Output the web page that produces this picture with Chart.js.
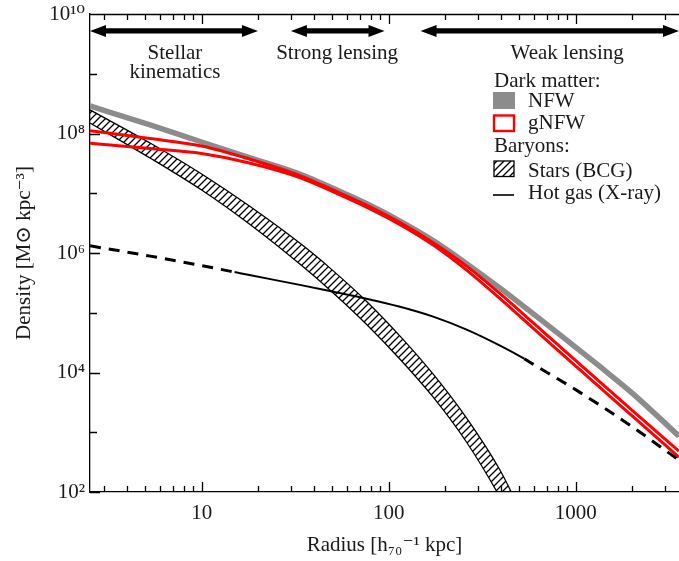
<!DOCTYPE html>
<html><head><meta charset="utf-8">
<script src="https://cdn.jsdelivr.net/npm/chart.js@4/dist/chart.umd.min.js"></script>
<style>html,body{margin:0;padding:0;background:#fff}canvas{display:block}</style>
</head><body>
<canvas id="c" width="679" height="561"></canvas>
<script>
// ---- data ----
const radius = [2.53, 5.3, 10, 18, 34, 50, 76, 115, 173, 261, 394, 591, 895, 1350, 2025, 3565];
const nfw = [2.89e8, 1.39e8, 7.21e7, 3.96e7, 2.06e7, 1.22e7, 6.72e6, 3.42e6, 1.61e6, 6.64e5, 2.58e5, 9.66e4, 3.48e4, 1.25e4, 4.40e3, 8.6e2];
const gnfwHigh = [1.11e8, 8.24e7, 6.18e7, 3.74e7, 1.94e7, 1.15e7, 6.34e6, 3.23e6, 1.49e6, 6.04e5, 2.09e5, 6.82e4, 2.15e4, 6.88e3, 2.25e3, 4.81e2];
const gnfwLow = [6.85e7, 5.61e7, 4.62e7, 3.21e7, 1.80e7, 1.07e7, 5.87e6, 2.99e6, 1.36e6, 5.17e5, 1.72e5, 5.52e4, 1.74e4, 5.56e3, 1.82e3, 3.81e2];
const gasRadius = [2.53, 5.3, 10, 15, 18, 34, 50, 76, 115, 173, 261, 394, 530, 591, 895, 1350, 2025, 3565];
const hotGas = [1.32e6, 8.87e5, 6.15e5, 4.79e5, 4.27e5, 2.90e5, 2.26e5, 1.72e5, 1.26e5, 8.61e4, 5.21e4, 2.81e4, 1.70e4, 1.38e4, 6.37e3, 2.83e3, 1.21e3, 3.40e2];
const gasMeasuredRange = [15, 530];
const starRadius = [2.53, 5.3, 10, 18, 34, 50, 76, 115, 173, 261, 394, 520];
const starsHigh = [2.48e8, 6.93e7, 2.10e7, 6.11e6, 1.41e6, 5.17e5, 1.56e5, 4.06e4, 9.37e3, 1.72e3, 2.31e2, 40.7];
const starsLow = [1.50e8, 3.89e7, 1.13e7, 3.05e6, 6.27e5, 2.21e5, 6.44e4, 1.67e4, 3.86e3, 6.80e2, 81.5, 15.5];

const regionNames = [["Stellar", "kinematics"], ["Strong lensing"], ["Weak lensing"]];
const regionFrom = [2.53, 30, 148];
const regionTo = [20, 95, 3565];
const regionLabelAt = [7.2, 53, 900];
const arrowLevel = 5.2e9;

const xRange = [2.53, 3565];
const yRange = [1e2, 1e10];
const xMajorTicks = [10, 100, 1000];
const xTickLabels = ["10", "100", "1000"];
const xMinorTicks = [3, 4, 5, 6, 7, 8, 9, 20, 30, 40, 50, 60, 70, 80, 90, 200, 300, 400, 500, 600, 700, 800, 900, 2000, 3000];
const yMajorTicks = [1e2, 1e4, 1e6, 1e8, 1e10];
const yTickLabels = ["10\u00B2", "10\u2074", "10\u2076", "10\u2078", "10\u00B9\u2070"];
const yMinorTicks = [1e3, 1e5, 1e7, 1e9];

const legendHeaders = ["Dark matter:", "Baryons:"];
const legendNames = ["NFW", "gNFW", "Stars (BCG)", "Hot gas (X-ray)"];

const xTitle = "Radius [h\u2087\u2080\u207B\u00B9 kpc]";
const yTitle = "Density [M\u2299 kpc\u207B\u00B3]";

// ---- styling ----
const FONT = "'Liberation Serif', 'DejaVu Serif', serif";
const TXT = '#1a1a1a';
const GRAY = '#8c8c8c';
const RED = '#ff0000';

const canvas = document.getElementById('c');
const mainCtx = canvas.getContext('2d');
function makeHatch() {
  const s = 7;
  const c = document.createElement('canvas'); c.width = s; c.height = s;
  const g = c.getContext('2d');
  g.strokeStyle = '#000'; g.lineWidth = 1.3;
  g.beginPath();
  g.moveTo(0, s); g.lineTo(s, 0);
  g.moveTo(-1, 1); g.lineTo(1, -1);
  g.moveTo(s - 1, s + 1); g.lineTo(s + 1, s - 1);
  g.stroke();
  return mainCtx.createPattern(c, 'repeat');
}
const hatch = makeHatch();

const pts = (xs, ys) => xs.map((x, i) => ({x: x, y: ys[i]}));

const frame = {
  id: 'frame',
  afterDraw(chart) {
    const {ctx, chartArea: a, scales: {x, y}} = chart;
    ctx.save();
    ctx.strokeStyle = '#000'; ctx.lineWidth = 1.3;
    ctx.beginPath();
    ctx.moveTo(a.left, a.top + 0.5); ctx.lineTo(a.right, a.top + 0.5);
    x.ticks.forEach(t => {
      const px = Math.round(x.getPixelForValue(t.value)) + 0.5;
      const len = t.major ? 10 : 6;
      ctx.moveTo(px, a.bottom); ctx.lineTo(px, a.bottom - len);
      ctx.moveTo(px, a.top); ctx.lineTo(px, a.top + len);
    });
    y.ticks.forEach(t => {
      const py = Math.round(y.getPixelForValue(t.value)) + 0.5;
      const len = t.major ? 10 : 7;
      ctx.moveTo(a.left, py); ctx.lineTo(a.left + len, py);
    });
    ctx.stroke();
    ctx.restore();
  }
};

const annotations = {
  id: 'annotations',
  afterDraw(chart) {
    const {ctx, scales: {x, y}} = chart;
    ctx.save();
    const ay = y.getPixelForValue(arrowLevel);
    regionNames.forEach((lines, i) => {
      const x1 = x.getPixelForValue(regionFrom[i]);
      const x2 = x.getPixelForValue(regionTo[i]);
      const hl = 16, hh = 6, sw = 2.6;
      ctx.fillStyle = '#000';
      ctx.beginPath();
      ctx.moveTo(x1, ay);
      ctx.lineTo(x1 + hl, ay - hh);
      ctx.lineTo(x1 + hl, ay - sw);
      ctx.lineTo(x2 - hl, ay - sw);
      ctx.lineTo(x2 - hl, ay - hh);
      ctx.lineTo(x2, ay);
      ctx.lineTo(x2 - hl, ay + hh);
      ctx.lineTo(x2 - hl, ay + sw);
      ctx.lineTo(x1 + hl, ay + sw);
      ctx.lineTo(x1 + hl, ay + hh);
      ctx.closePath();
      ctx.fill();
      ctx.fillStyle = TXT;
      ctx.font = '21px ' + FONT;
      ctx.textAlign = 'center';
      ctx.textBaseline = 'alphabetic';
      const cx = x.getPixelForValue(regionLabelAt[i]);
      lines.forEach((s, k) => ctx.fillText(s, cx, ay + 28 + k * 19));
    });

    // legend
    const lx = 493, tx = 528;
    ctx.font = '21px ' + FONT;
    ctx.textAlign = 'left';
    ctx.textBaseline = 'alphabetic';
    ctx.fillStyle = TXT;
    ctx.fillText(legendHeaders[0], lx + 1, 87);
    ctx.fillStyle = GRAY;
    ctx.fillRect(lx, 92, 22, 17);
    ctx.fillStyle = TXT;
    ctx.fillText(legendNames[0], tx, 107);
    ctx.strokeStyle = RED; ctx.lineWidth = 2.4;
    ctx.strokeRect(lx + 1, 115.5, 20, 15.5);
    ctx.fillText(legendNames[1], tx, 129);
    ctx.fillText(legendHeaders[1], lx + 1, 152);
    ctx.fillStyle = hatch;
    ctx.fillRect(lx + 1, 161, 20, 15.5);
    ctx.strokeStyle = '#000'; ctx.lineWidth = 1.3;
    ctx.strokeRect(lx + 1, 161, 20, 15.5);
    ctx.fillStyle = TXT;
    ctx.fillText(legendNames[2], tx, 177);
    ctx.lineWidth = 1.6;
    ctx.beginPath(); ctx.moveTo(lx, 195); ctx.lineTo(lx + 21, 195); ctx.stroke();
    ctx.fillText(legendNames[3], tx, 199);
    ctx.restore();
  }
};

const lineBase = {pointRadius: 0, fill: false, cubicInterpolationMode: 'monotone', clip: 0};
const dashedGas = c => c.p1.parsed.x <= gasMeasuredRange[0] || c.p0.parsed.x >= gasMeasuredRange[1];

new Chart(canvas, {
  type: 'line',
  data: {
    datasets: [
      Object.assign({}, lineBase, {
        label: legendNames[3], data: pts(gasRadius, hotGas), borderColor: '#000', borderWidth: 2,
        segment: {
          borderDash: c => dashedGas(c) ? [11, 8] : undefined,
          borderWidth: c => dashedGas(c) ? 3 : 2
        }
      }),
      Object.assign({}, lineBase, {label: legendNames[1] + ' high', data: pts(radius, gnfwHigh), borderColor: RED, borderWidth: 3}),
      Object.assign({}, lineBase, {label: legendNames[1] + ' low', data: pts(radius, gnfwLow), borderColor: RED, borderWidth: 3}),
      Object.assign({}, lineBase, {label: legendNames[0], data: pts(radius, nfw), borderColor: GRAY, borderWidth: 5.5}),
      Object.assign({}, lineBase, {label: legendNames[2] + ' high', data: pts(starRadius, starsHigh), borderColor: '#000', borderWidth: 1.3, fill: '+1', backgroundColor: hatch}),
      Object.assign({}, lineBase, {label: legendNames[2] + ' low', data: pts(starRadius, starsLow), borderColor: '#000', borderWidth: 1.3})
    ]
  },
  options: {
    responsive: false,
    animation: false,
    layout: {padding: {top: 14, right: 0, left: 0, bottom: 0}},
    plugins: {legend: {display: false}, tooltip: {enabled: false}},
    scales: {
      x: {
        type: 'logarithmic', min: xRange[0], max: xRange[1],
        afterBuildTicks: s => {
          s.ticks = xMajorTicks.map(v => ({value: v, major: true}))
            .concat(xMinorTicks.map(v => ({value: v, major: false})))
            .sort((a, b) => a.value - b.value);
        },
        afterFit: s => { s.height = 69; s.paddingLeft = 0; s.paddingRight = 0; },
        grid: {display: false, drawTicks: false},
        border: {display: true, color: '#000', width: 1.3},
        ticks: {
          autoSkip: false, maxRotation: 0, padding: 9, color: TXT,
          font: {family: FONT, size: 21},
          callback: v => { const i = xMajorTicks.indexOf(v); return i >= 0 ? xTickLabels[i] : ''; }
        },
        title: {display: true, text: xTitle, color: TXT, font: {family: FONT, size: 21}, padding: {top: 0, bottom: 3}}
      },
      y: {
        type: 'logarithmic', min: yRange[0], max: yRange[1],
        afterBuildTicks: s => {
          s.ticks = yMajorTicks.map(v => ({value: v, major: true}))
            .concat(yMinorTicks.map(v => ({value: v, major: false})))
            .sort((a, b) => a.value - b.value);
        },
        afterFit: s => { s.width = 90; s.paddingTop = 0; s.paddingBottom = 0; },
        grid: {display: false, drawTicks: false},
        border: {display: true, color: '#000', width: 1.3},
        ticks: {
          autoSkip: false, padding: 5, color: TXT,
          font: {family: FONT, size: 21},
          callback: v => { const i = yMajorTicks.indexOf(v); return i >= 0 ? yTickLabels[i] : ''; }
        },
        title: {display: true, text: yTitle, color: TXT, font: {family: FONT, size: 21}, padding: {top: 12, bottom: 0}}
      }
    }
  },
  plugins: [frame, annotations]
});
</script>
</body></html>
